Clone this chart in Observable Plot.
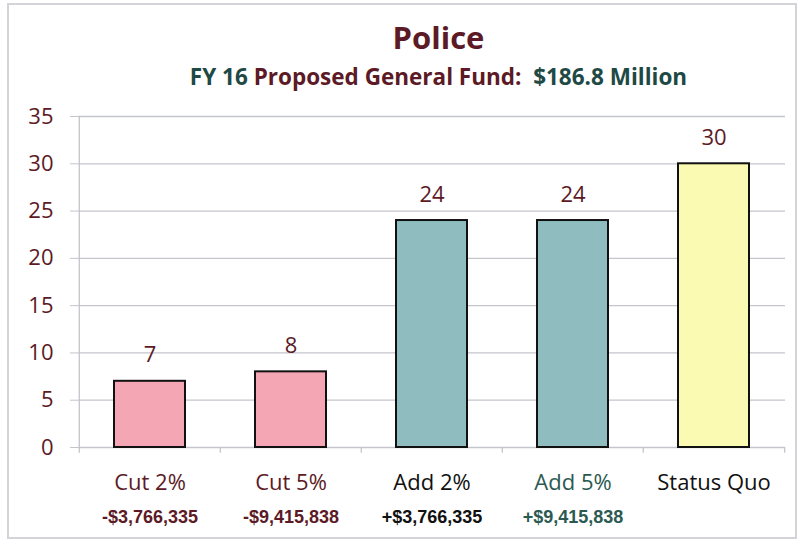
<!DOCTYPE html>
<html>
<head>
<meta charset="utf-8">
<script src="https://cdn.jsdelivr.net/npm/d3@7"></script>
<script src="https://cdn.jsdelivr.net/npm/@observablehq/plot@0.6"></script>
<style>
  html, body { margin: 0; padding: 0; background: #fff; }
  #wrap { position: relative; width: 801px; height: 545px; overflow: hidden; background: #fff; }
  #border { position: absolute; left: 7px; top: 3px; width: 790px; height: 536px; border: 2px solid #d2d4d8; box-sizing: border-box; }
  .ttl { position: absolute; left: 0; width: 801px; text-align: center; font-family: "Open Sans", sans-serif; font-weight: 700; white-space: pre; }
  #title { top: 15px; padding-left: 76px; box-sizing: border-box; font-size: 31px; color: #5c1a26; line-height: 44px; }
  #subtitle { top: 62px; padding-left: 76px; box-sizing: border-box; font-size: 22.5px; color: #1e4944; line-height: 30px; }
  #chart { position: absolute; left: 0; top: 0; }
</style>
</head>
<body>
<div id="wrap">
  <div id="border"></div>
  <div id="chart"></div>
  <div class="ttl" id="title">Police</div>
  <div class="ttl" id="subtitle"><span style="color:#1e4944">FY 16 </span><span style="color:#5c1a26">Proposed General Fund:</span><span style="color:#1e4944">  $186.8 Million</span></div>
</div>
<script>
const categories = ["Cut 2%", "Cut 5%", "Add 2%", "Add 5%", "Status Quo"];
const values = [7, 8, 24, 24, 30];
const amounts = ["-$3,766,335", "-$9,415,838", "+$3,766,335", "+$9,415,838", ""];
const barColors = ["#f4a6b4", "#f4a6b4", "#8fbcbf", "#8fbcbf", "#fafab2"];
const labelColors = ["#5c1a26", "#5c1a26", "#111111", "#2b5a52", "#111111"];
const yTicks = [0, 5, 10, 15, 20, 25, 30, 35];

const data = categories.map((c, i) => ({
  cat: c, value: values[i], amount: amounts[i], bar: barColors[i], label: labelColors[i]
}));

const W = 801, H = 545, mL = 78, mR = 16, mT = 116, mB = 98;
const step = (W - mL - mR) / categories.length;

const chart = Plot.plot({
  width: W,
  height: H,
  marginLeft: mL,
  marginRight: mR,
  marginTop: mT,
  marginBottom: mB,
  style: { fontFamily: "'Open Sans', sans-serif", background: "transparent", overflow: "visible" },
  x: { domain: categories, paddingInner: 0.5, paddingOuter: 0.25, axis: null },
  y: { domain: [0, 35], axis: null },
  color: { type: "identity" },
  marks: [
    Plot.ruleY(yTicks, { y: d => d, stroke: "#c4c6cc", strokeWidth: 1.3 }),
    Plot.ruleX([categories[0]], { x: d => d, dx: -step / 2, y1: 0, y2: 35, stroke: "#c4c6cc", strokeWidth: 1.3 }),
    Plot.ruleX(categories, { x: d => d, dx: -step / 2, y1: 0, y2: -0.6, stroke: "#c4c6cc", strokeWidth: 1.3 }),
    Plot.ruleX([categories[categories.length - 1]], { x: d => d, dx: step / 2, y1: 0, y2: -0.6, stroke: "#c4c6cc", strokeWidth: 1.3 }),
    Plot.axisY({ ticks: yTicks, label: null, tickSize: 8, tickPadding: 17, fontSize: 22, fill: "#5c1a26", stroke: "#c4c6cc", tickFormat: d => String(d) }),
    Plot.barY(data, { x: "cat", y: "value", fill: "bar", stroke: "#111", strokeWidth: 2 }),
    Plot.text(data, { x: "cat", y: "value", text: d => String(d.value), dy: -26, fontSize: 22, fill: "#5c1a26", lineAnchor: "middle" }),
    Plot.text(data, { x: "cat", frameAnchor: "bottom", text: "cat", dy: 35, fontSize: 22, fill: "label", lineAnchor: "middle" }),
    Plot.text(data, { x: "cat", frameAnchor: "bottom", text: "amount", dy: 70, fontSize: 18, fontWeight: "bold", fontFamily: "'Liberation Sans', Arial, sans-serif", fill: "label", lineAnchor: "middle" })
  ]
});
document.getElementById("chart").appendChild(chart);
</script>
</body>
</html>
